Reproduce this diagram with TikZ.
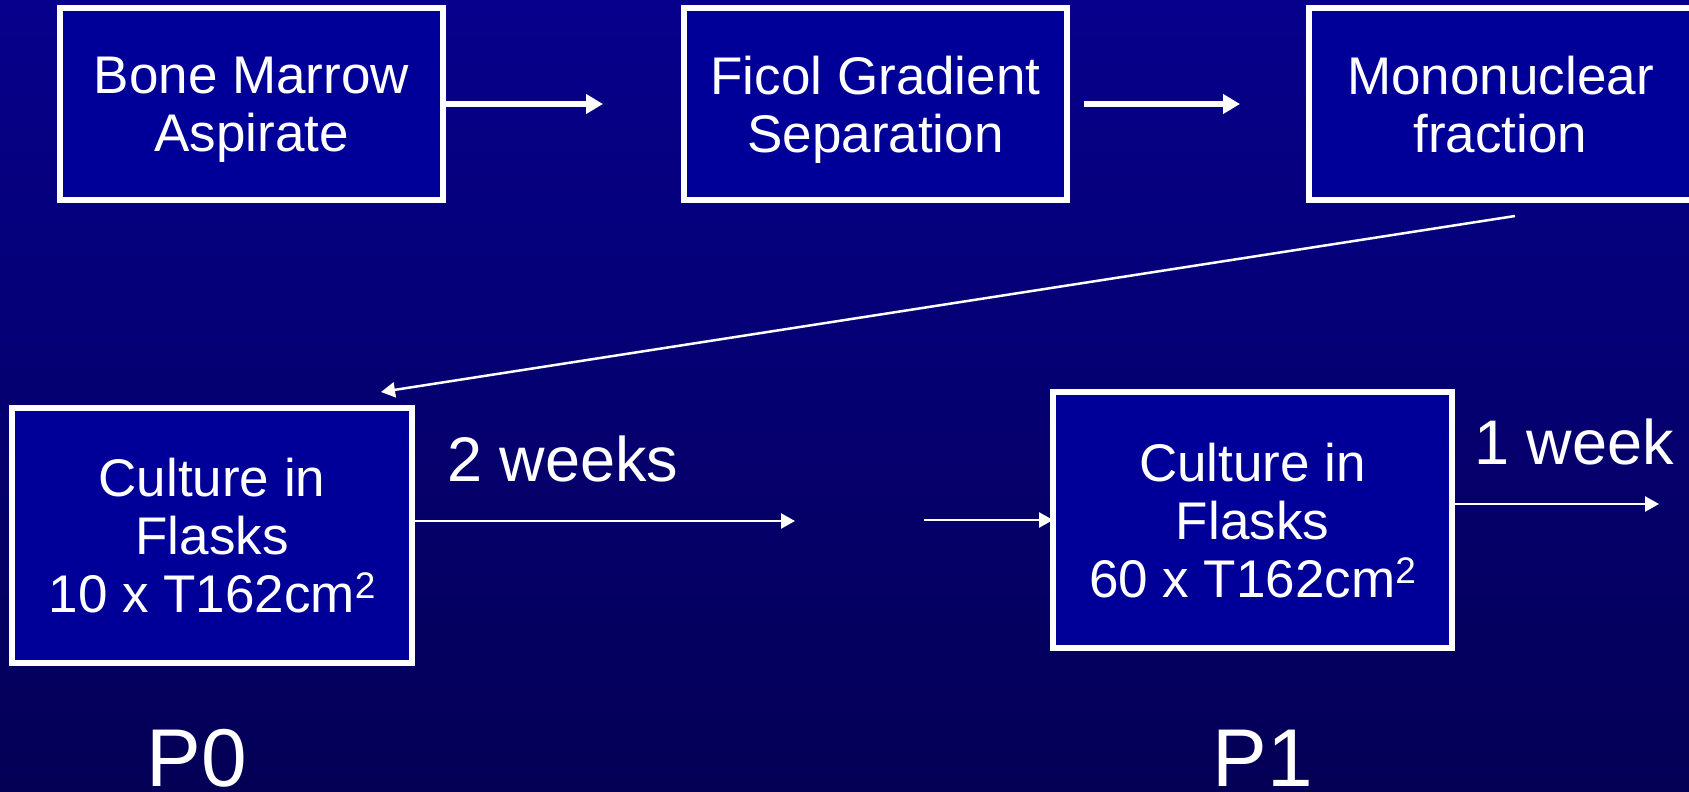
\documentclass[tikz,border=0pt]{standalone}
\usepackage{fontspec}
\setmainfont{Liberation Sans}
\usetikzlibrary{arrows.meta}

\definecolor{bgtop}{RGB}{6,0,140}
\definecolor{bgbot}{RGB}{4,0,85}
\definecolor{boxblue}{RGB}{0,0,153}

\newcommand{\sqsup}{\raisebox{14pt}{\fontsize{37}{37}\selectfont 2}}

\tikzset{
	stage/.style={draw=white, line width=6pt, fill=boxblue, text=white, align=center,
		font=\fontsize{53}{58}\selectfont, text depth=0pt, inner sep=0pt, outer sep=0pt},
	flow/.style={white, line width=6pt, -{Triangle[length=17pt,width=19pt]}},
	thinflow/.style={white, line width=2.5pt, -{Triangle[length=14pt,width=15pt]}},
	lbl/.style={text=white, inner sep=0pt}
}

\begin{document}
\begin{tikzpicture}[x=1pt,y=-1pt]
		\useasboundingbox (0,0) rectangle (1689,792);
		\clip (0,0) rectangle (1689,792);
		\shade[top color=bgtop, bottom color=bgbot] (0,0) rectangle (1689,792);

		% separation
		\node[stage, minimum width=383pt, minimum height=192pt] (marrow) at (251.5,104) {Bone Marrow\\Aspirate};
		\node[stage, minimum width=383pt, minimum height=192pt] (ficol) at (875.5,104) {Ficol Gradient\\Separation};
		\node[stage, minimum width=383pt, minimum height=192pt] (mono) at (1500.5,104) {Mononuclear\\fraction};
		\coordinate (f1) at (603,104);
		\coordinate (f2s) at (1084,104);
		\coordinate (f2) at (1240,104);
		\draw[flow] (marrow.east) -- (f1);
		\draw[flow] (f2s) -- (f2);

		% culture
		\node[stage, minimum width=400pt, minimum height=255pt] (pzero) at (212,535.5) {Culture in\\Flasks\\10 x T162cm\sqsup};
		\node[stage, minimum width=399pt, minimum height=256pt] (pone) at (1252.5,520) {Culture in\\Flasks\\60 x T162cm\sqsup};
		\coordinate (m) at (1515,216);
		\coordinate (c) at (381,392);
		\coordinate (w2) at (795,521);
		\coordinate (w2s) at (924,520);
		\coordinate (w1) at (1659,504);
		\draw[thinflow] (m) -- (c);
		\draw[thinflow] (pzero.east |- w2) -- (w2);
		\draw[thinflow] (w2s) -- (pone.west);
		\draw[thinflow] (pone.east |- w1) -- (w1);

		\node[lbl, anchor=base west, font=\fontsize{63}{70}\selectfont] (twowk) at (447,481) {2 weeks};
		\node[lbl, anchor=base west, font=\fontsize{63}{70}\selectfont] (onewk) at (1474,464) {1 week};
		\node[lbl, anchor=base, font=\fontsize{82}{90}\selectfont] (p0) at (197,786) {P0};
		\node[lbl, anchor=base, font=\fontsize{82}{90}\selectfont] (p1) at (1263,786) {P1};
	\end{tikzpicture}
\end{document}
